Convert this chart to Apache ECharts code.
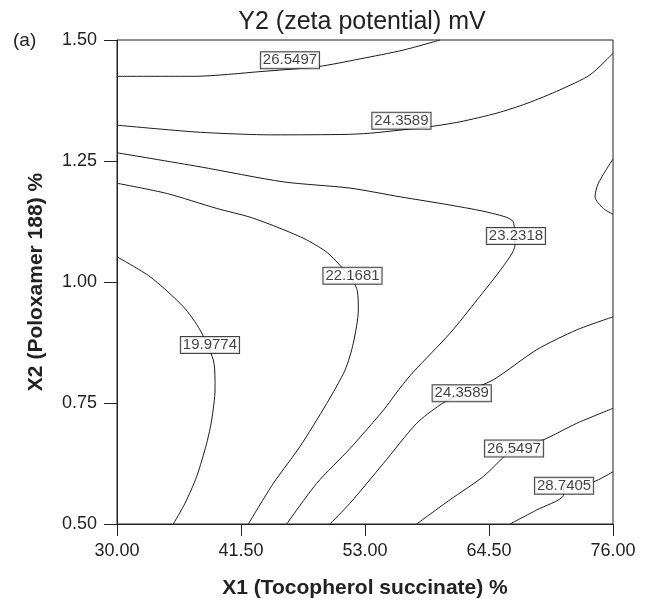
<!DOCTYPE html>
<html>
<head>
<meta charset="utf-8">
<script src="https://cdn.jsdelivr.net/npm/echarts@6/dist/echarts.min.js"></script>
<style>
  html, body { margin: 0; padding: 0; background: #fff; }
  #chart { width: 651px; height: 600px; }
</style>
</head>
<body>
<div id="chart"></div>
<script>
// axis ticks
const xTicks = [30, 41.5, 53, 64.5, 76]
const yTicks = [0.5, 0.75, 1.0, 1.25, 1.5]

// contour lines, [X1, X2] points
const c26Top = [[30, 1.425], [37.23, 1.425], [43.45, 1.435], [48.64, 1.445], [52.54, 1.461], [56.52, 1.479], [59.96, 1.5]]
const c24Top = [[30, 1.324], [37.23, 1.310], [42.06, 1.305], [44.47, 1.304], [51.33, 1.305], [53.74, 1.308], [59.03, 1.321], [61.81, 1.331], [65.24, 1.349], [68.02, 1.369], [71.08, 1.397], [73.87, 1.428], [76, 1.4725]]
const c23 = [[30, 1.267], [37.70, 1.238], [45.40, 1.207], [51.61, 1.194], [56.25, 1.176], [60.88, 1.159], [64.59, 1.143], [66.73, 1.125], [66.91, 1.076], [65.80, 1.032], [63.39, 0.963], [60.88, 0.894], [57.48, 0.814], [56.25, 0.781], [54.70, 0.735], [51.61, 0.656], [48.52, 0.584], [45.74, 0.5]]
const c22 = [[30, 1.204], [34.61, 1.183], [39.25, 1.152], [42.33, 1.134], [45.12, 1.111], [47.59, 1.087], [49.75, 1.056], [52.23, 0.987], [52.38, 0.942], [51.91, 0.873], [51.15, 0.818], [49.45, 0.749], [46.97, 0.660], [44.50, 0.584], [42.18, 0.5]]
const c19 = [[30, 1.052], [33.06, 1.011], [36.15, 0.949], [37.70, 0.901], [38.93, 0.839], [39.09, 0.797], [39.09, 0.777], [38.78, 0.715], [38.32, 0.667], [37.39, 0.598], [36.31, 0.543], [35.22, 0.5]]
const c24Low = [[76, 0.928], [72.63, 0.901], [68.92, 0.860], [64.90, 0.798], [61.97, 0.770], [59.96, 0.746], [57.79, 0.708], [54.70, 0.625], [51.61, 0.543], [49.75, 0.5]]
const c26Low = [[76, 0.739], [72.63, 0.708], [69.54, 0.674], [66.82, 0.656], [63.97, 0.598], [60.88, 0.550], [57.79, 0.5]]
const c28 = [[76, 0.608], [74.17, 0.587], [71.46, 0.579], [71.39, 0.558], [68.92, 0.529], [66.45, 0.5]]
const cLoop = [[76, 1.254], [74.64, 1.204], [74.33, 1.176], [75.10, 1.152], [76, 1.140]]

// contour labels
const labelText = ['26.5497', '24.3589', '23.2318', '22.1681', '19.9774', '24.3589', '26.5497', '28.7405']
const labelPos = [[46.04, 1.458], [56.38, 1.333], [67.00, 1.095], [51.84, 1.013], [38.62, 0.870], [61.97, 0.770], [66.82, 0.656], [71.46, 0.579]]

const font = '"Liberation Sans", Arial, sans-serif'
const chart = echarts.init(document.getElementById('chart'))

const contours = [c26Top, c24Top, c23, c22, c19, c24Low, c26Low, c28, cLoop]
const series = contours.map(c => ({
  type: 'line',
  data: c,
  showSymbol: false,
  smooth: 0.25,
  silent: true,
  lineStyle: { color: '#1a1a1a', width: 1 },
  z: 2
}))
series.push({
  type: 'scatter',
  data: labelPos.map((p, i) => [p[0], p[1], labelText[i]]),
  symbolSize: 1,
  itemStyle: { color: 'rgba(0,0,0,0)' },
  silent: true,
  z: 5,
  label: {
    show: true,
    position: 'inside',
    formatter: p => p.value[2],
    fontFamily: font,
    fontSize: 15,
    lineHeight: 15,
    color: '#111',
    backgroundColor: '#fff',
    borderColor: '#111',
    borderWidth: 1,
    padding: [1, 2, 0, 2]
  }
})

chart.setOption({
  animation: false,
  title: {
    text: 'Y2 (zeta potential) mV',
    left: 357,
    top: 5,
    textAlign: 'center',
    textStyle: { fontFamily: font, fontSize: 25, fontWeight: 'normal', color: '#222' }
  },
  graphic: [{
    type: 'text',
    left: 13,
    top: 31,
    style: { text: '(a)', fontFamily: font, fontSize: 19, fill: '#222' }
  }],
  grid: {
    left: 117, right: 38, top: 40, bottom: 76,
    outerBoundsMode: 'none',
    show: true, borderColor: '#222', borderWidth: 1
  },
  xAxis: {
    type: 'value',
    min: 30,
    max: 76,
    name: 'X1 (Tocopherol succinate) %',
    nameLocation: 'middle',
    nameGap: 54,
    nameTextStyle: { fontFamily: font, fontSize: 21, fontWeight: 'bold', color: '#222' },
    axisLine: { lineStyle: { color: '#222' } },
    axisTick: { customValues: xTicks, length: 12, lineStyle: { color: '#222' } },
    axisLabel: {
      customValues: xTicks,
      margin: 18,
      formatter: v => v.toFixed(2),
      fontFamily: font, fontSize: 18, color: '#222'
    },
    splitLine: { show: false }
  },
  yAxis: {
    type: 'value',
    min: 0.5,
    max: 1.5,
    interval: 0.25,
    name: 'X2 (Poloxamer 188) %',
    nameLocation: 'middle',
    nameGap: 70,
    nameTextStyle: { fontFamily: font, fontSize: 21, fontWeight: 'bold', color: '#222' },
    axisLine: { lineStyle: { color: '#222' } },
    axisTick: { length: 13, lineStyle: { color: '#222' } },
    axisLabel: {
      margin: 20,
      formatter: v => v.toFixed(2),
      fontFamily: font, fontSize: 18, color: '#222'
    },
    splitLine: { show: false }
  },
  series: series
})
</script>
</body>
</html>
